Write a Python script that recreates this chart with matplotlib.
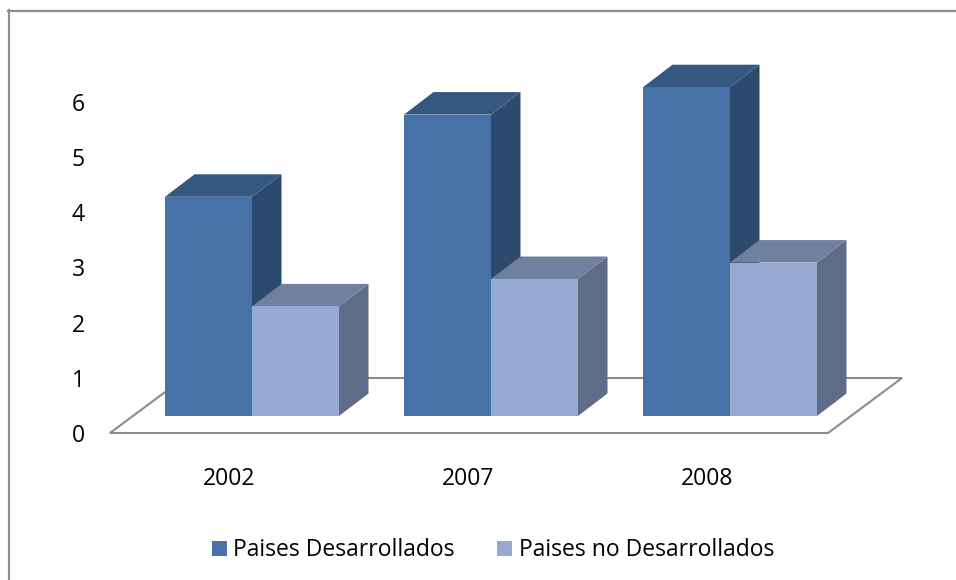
import matplotlib
matplotlib.use('Agg')
import matplotlib.pyplot as plt
from matplotlib.patches import Polygon, Rectangle

years = ['2002', '2007', '2008']
desarrollados = [4.0, 5.5, 6.0]
no_desarrollados = [2.0, 2.5, 2.8]
y_ticks = [0, 1, 2, 3, 4, 5, 6]
series_names = ['Paises Desarrollados', 'Paises no Desarrollados']

# front, top, side colours for each series
colors_dark = ['#4672A8', '#34587F', '#2C4A6E']
colors_light = ['#95A9D1', '#6F819F', '#5E6C87']
floor_color = '#8C8C8C'

plt.rcParams['font.family'] = ['Open Sans', 'DejaVu Sans']

W, H = 956, 580
fig = plt.figure(figsize=(W / 100, H / 100), dpi=100)

# axes covers the whole figure, x = category units, y = value units
px_per_cat = 239.0
px_per_val = 54.8
x0_px = 252.0   # centre of the first group
y0_px = 416.0   # front base of the bars
ax = fig.add_axes([0, 0, 1, 1])
ax.set_xlim(-x0_px / px_per_cat, (W - x0_px) / px_per_cat)
ax.set_ylim(-(H - y0_px) / px_per_val, y0_px / px_per_val)
ax.axis('off')

# size of the oblique depth and the bar width, in data units
bar_w = 87.0 / px_per_cat
dx = 29.5 / px_per_cat
dy = 22.5 / px_per_val


def draw_bar(left, value, cols):
    right = left + bar_w
    ax.add_patch(Polygon([(right, 0), (right + dx, dy), (right + dx, value + dy), (right, value)],
                         facecolor=cols[2], edgecolor='none', zorder=3))
    ax.add_patch(Polygon([(left, value), (left + dx, value + dy), (right + dx, value + dy), (right, value)],
                         facecolor=cols[1], edgecolor='none', zorder=3))
    ax.add_patch(Rectangle((left, 0), bar_w, value, facecolor=cols[0], edgecolor='none', zorder=4))


# floor
fl = -(17.0 / px_per_val)
bk = 38.0 / px_per_val
x_a = (110 - x0_px) / px_per_cat
x_b = (828 - x0_px) / px_per_cat
x_c = (902 - x0_px) / px_per_cat
x_d = (184 - x0_px) / px_per_cat
ax.add_patch(Polygon([(x_a, fl), (x_b, fl), (x_c, bk), (x_d, bk)], closed=True,
                     facecolor='white', edgecolor=floor_color, lw=1.5, zorder=1))

# draw back to front so a light bar's side never covers the next group
for i in range(len(years)):
    draw_bar(i - bar_w, desarrollados[i], colors_dark)
    draw_bar(i, no_desarrollados[i], colors_light)

# value labels sit on the front edge of the floor
for t in y_ticks:
    ax.text((78 - x0_px) / px_per_cat, fl + (t * 55.2 - 3) / px_per_val, str(t), fontsize=16.5,
            ha='center', va='center', color='black')

for i, year in enumerate(years):
    ax.text(i - 23 / px_per_cat, -(479 - y0_px) / px_per_val, year, fontsize=16.5,
            ha='center', va='center', color='black')

# legend
leg_y = -(548.5 - y0_px) / px_per_val
text_y = -(550 - y0_px) / px_per_val
sq_w = 15.0 / px_per_cat
sq_h = 15.0 / px_per_val
ax.add_patch(Rectangle(((212 - x0_px) / px_per_cat, leg_y - sq_h / 2), sq_w, sq_h, facecolor=colors_dark[0], edgecolor='none'))
ax.add_patch(Rectangle(((497 - x0_px) / px_per_cat, leg_y - sq_h / 2), sq_w, sq_h, facecolor=colors_light[0], edgecolor='none'))
ax.text((233 - x0_px) / px_per_cat, text_y, series_names[0], fontsize=16.5, ha='left', va='center', color='black')
ax.text((519 - x0_px) / px_per_cat, text_y, series_names[1], fontsize=16.5, ha='left', va='center', color='black')

# chart frame, only the top and left edges show in the crop
frame = '#8E8E8E'
fig.add_artist(plt.Line2D([8.5 / W, 8.5 / W], [0, 1 - 10 / H], color=frame, lw=1.6))
fig.add_artist(plt.Line2D([8 / W, 1], [1 - 10.5 / H, 1 - 10.5 / H], color=frame, lw=1.6))

fig.savefig('out.png', dpi=100)
